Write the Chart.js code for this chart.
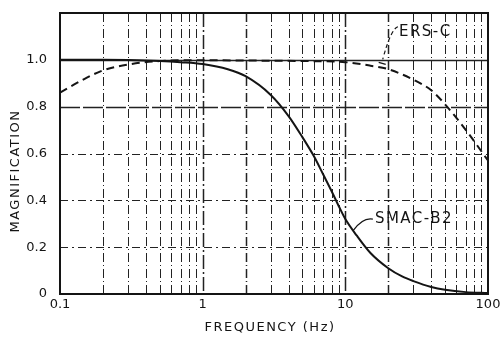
<!DOCTYPE html>
<html>
<head>
<meta charset="utf-8">
<script src="https://cdn.jsdelivr.net/npm/chart.js@4.4.1/dist/chart.umd.min.js"></script>
<style>
  html, body { margin: 0; padding: 0; background: #fff; }
  #wrap { width: 504px; height: 346px; }
</style>
</head>
<body>
<div id="wrap"><canvas id="myChart" width="504" height="346"></canvas></div>
<script>
// values
let smacFreq = [0.1, 0.2, 0.3, 0.5, 0.7, 1, 1.5, 2, 3, 4, 5, 6, 7, 8, 9, 10, 12, 15, 20, 25, 30, 40, 50, 70, 100]
let smacMag  = [1.0, 1.0, 0.999, 0.995, 0.99, 0.982, 0.96, 0.93, 0.85, 0.76, 0.67, 0.59, 0.51, 0.44, 0.375, 0.32, 0.25, 0.175, 0.11, 0.075, 0.055, 0.03, 0.018, 0.008, 0.004]
let ersFreq = [0.1, 0.15, 0.2, 0.3, 0.5, 0.7, 1, 2, 5, 10, 15, 20, 30, 40, 50, 70, 100]
let ersMag  = [0.86, 0.92, 0.955, 0.98, 0.995, 0.998, 0.998, 0.997, 0.995, 0.99, 0.975, 0.96, 0.915, 0.87, 0.81, 0.70, 0.57]
let gridFreq = [0.1, 0.2, 0.3, 0.4, 0.5, 0.6, 0.7, 0.8, 0.9, 1, 2, 3, 4, 5, 6, 7, 8, 9, 10, 20, 30, 40, 50, 60, 70, 80, 90, 100]
let xLabels = {0.1: '0.1', 1: '1', 10: '10', 100: '100'}
let yLabels = {0: '0', 0.2: '0.2', 0.4: '0.4', 0.6: '0.6', 0.8: '0.8', 1: '1.0'}

function toPoints(xs, ys) {
  let pts = []
  for (let i = 0; i < xs.length; ++i) pts.push({x: xs[i], y: ys[i]})
  return pts
}

const ink = '#141414'
const font = '"DejaVu Sans", sans-serif'

// grid, frame, curve labels and axis titles
const paperPlugin = {
  id: 'paper',
  beforeDatasetsDraw(chart) {
    const ctx = chart.ctx
    const xs = chart.scales.x, ys = chart.scales.y
    const a = chart.chartArea
    ctx.save()
    ctx.strokeStyle = '#222'
    ctx.lineWidth = 1
    for (let f of gridFreq) {
      let px = Math.round(xs.getPixelForValue(f)) + 0.5
      ctx.lineWidth = (f === 1 || f === 10 || f === 2 || f === 20) ? 1.5 : 1
      ctx.setLineDash((f === 1 || f === 10) ? [14, 3, 2, 3] : [9, 3, 1, 3])
      ctx.beginPath(); ctx.moveTo(px, a.top); ctx.lineTo(px, a.bottom); ctx.stroke()
    }
    for (let v of [0.2, 0.4, 0.6, 0.8, 1.0]) {
      let py = Math.round(ys.getPixelForValue(v)) + 0.5
      ctx.lineWidth = v >= 0.8 ? 1.5 : 1
      ctx.setLineDash(v === 1.0 ? [] : v === 0.8 ? [20, 3] : [8, 4, 2, 4])
      ctx.beginPath(); ctx.moveTo(a.left, py); ctx.lineTo(a.right, py); ctx.stroke()
    }
    ctx.restore()
  },
  afterDraw(chart) {
    const ctx = chart.ctx
    const xs = chart.scales.x, ys = chart.scales.y
    const a = chart.chartArea
    ctx.save()
    ctx.strokeStyle = ink
    ctx.lineWidth = 2
    ctx.strokeRect(a.left, a.top, a.right - a.left, a.bottom - a.top)

    ctx.fillStyle = ink
    ctx.font = '15px ' + font
    ctx.letterSpacing = '1.5px'
    ctx.textBaseline = 'middle'
    // ERS-C label with a dashed leader
    let ex = xs.getPixelForValue(23), ey = ys.getPixelForValue(1.12)
    ctx.textAlign = 'left'
    ctx.fillText('ERS-C', ex + 2, ey)
    ctx.lineWidth = 1.2
    ctx.setLineDash([4, 3])
    let tx = xs.getPixelForValue(17.7), ty = ys.getPixelForValue(0.985)
    ctx.beginPath()
    ctx.moveTo(ex + 1, ey - 5)
    ctx.quadraticCurveTo(ex - 6, ey - 3, tx + 2, ty - 4)
    ctx.stroke()
    ctx.setLineDash([])
    ctx.beginPath(); ctx.moveTo(tx - 2, ty - 1); ctx.lineTo(tx + 5, ty + 1); ctx.stroke()
    // SMAC-B2 label with a solid leader
    let sx = xs.getPixelForValue(15.6), sy = ys.getPixelForValue(0.32)
    ctx.fillText('SMAC-B2', sx + 2, sy)
    let cx = xs.getPixelForValue(11.3), cy = ys.getPixelForValue(0.27)
    ctx.beginPath()
    ctx.moveTo(sx, sy)
    ctx.quadraticCurveTo(sx - 10, sy - 2, cx, cy)
    ctx.stroke()

    // axis titles
    ctx.font = '13px ' + font
    ctx.letterSpacing = '1.5px'
    ctx.textAlign = 'center'
    ctx.fillText('FREQUENCY (Hz)', 270, 328)
    ctx.translate(16, 171)
    ctx.rotate(-Math.PI / 2)
    ctx.fillText('MAGNIFICATION', 0, 0)
    ctx.restore()
  }
}

const data = {
  datasets: [
    {
      label: 'SMAC-B2',
      data: toPoints(smacFreq, smacMag),
      borderColor: ink,
      borderWidth: 2,
      pointRadius: 0,
      cubicInterpolationMode: 'monotone',
      fill: false
    },
    {
      label: 'ERS-C',
      data: toPoints(ersFreq, ersMag),
      borderColor: ink,
      borderWidth: 2,
      borderDash: [8, 5],
      pointRadius: 0,
      cubicInterpolationMode: 'monotone',
      fill: false
    }
  ]
}

const config = {
  type: 'line',
  data: data,
  plugins: [paperPlugin],
  options: {
    responsive: false,
    animation: false,
    events: [],
    layout: {padding: {top: 13, right: 16, left: 0, bottom: 0}},
    plugins: {legend: {display: false}, tooltip: {enabled: false}},
    scales: {
      x: {
        type: 'logarithmic',
        min: 0.1,
        max: 100,
        afterBuildTicks: (s) => { s.ticks = gridFreq.map(v => ({value: v})) },
        afterFit: (s) => { s.height = 52 },
        grid: {display: false},
        border: {display: false},
        ticks: {
          autoSkip: false,
          maxRotation: 0,
          padding: -5,
          color: ink,
          font: {family: font, size: 13},
          callback: (v) => xLabels[v] || ''
        }
      },
      y: {
        type: 'linear',
        min: 0,
        max: 1.2,
        afterFit: (s) => { s.width = 60 },
        grid: {display: false},
        border: {display: false},
        ticks: {
          stepSize: 0.2,
          padding: 5,
          color: ink,
          font: {family: font, size: 13},
          callback: (v) => {
            let k = Math.round(v * 10) / 10
            return yLabels[k] || ''
          }
        }
      }
    }
  }
}

new Chart(document.getElementById('myChart'), config)
</script>
</body>
</html>
